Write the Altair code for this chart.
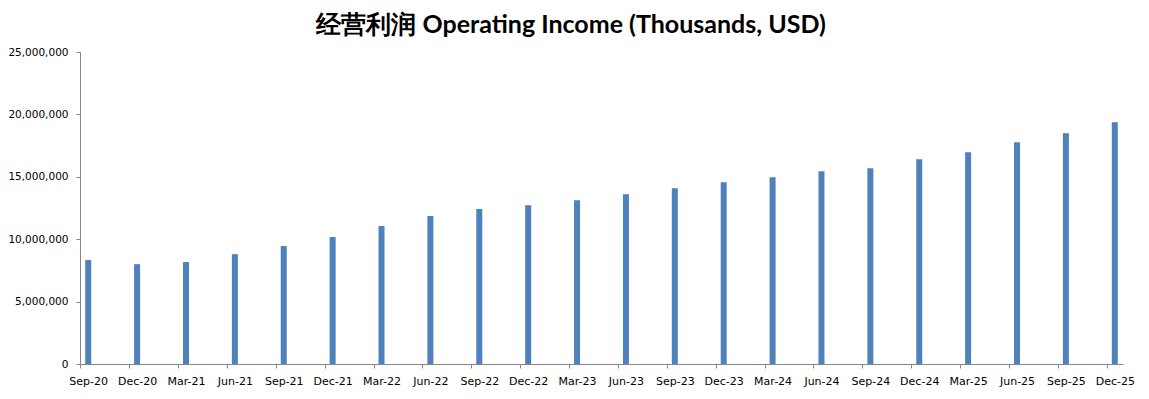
import altair as alt
import pandas as pd

quarters = ["Sep-20", "Dec-20", "Mar-21", "Jun-21", "Sep-21", "Dec-21", "Mar-22", "Jun-22",
            "Sep-22", "Dec-22", "Mar-23", "Jun-23", "Sep-23", "Dec-23", "Mar-24", "Jun-24",
            "Sep-24", "Dec-24", "Mar-25", "Jun-25", "Sep-25", "Dec-25"]
operating_income = [8330000, 8000000, 8170000, 8800000, 9450000, 10170000, 11050000, 11850000,
                    12410000, 12730000, 13130000, 13610000, 14090000, 14570000, 14970000, 15450000,
                    15690000, 16410000, 16970000, 17770000, 18490000, 19370000]
y_ticks = [0, 5000000, 10000000, 15000000, 20000000, 25000000]

df = pd.DataFrame({"quarter": quarters, "value": operating_income})

axis_color = "#868686"
font = "DejaVu Sans"

chart = alt.Chart(df).mark_bar(size=6, color="#4F81BD").encode(
    x=alt.X("quarter:N", sort=quarters,
            scale=alt.Scale(type="point", padding=0.168),
            axis=alt.Axis(title=None, labelAngle=0, domainColor=axis_color, tickColor=axis_color,
                          tickSize=4, tickOffset=-8, labelOffset=8, labelPadding=7,
                          labelFont=font, labelFontSize=11, labelColor="#000000", grid=False)),
    y=alt.Y("value:Q", scale=alt.Scale(domain=[0, 25000000], nice=False),
            axis=alt.Axis(title=None, values=y_ticks, format=",d", domainColor=axis_color,
                          tickColor=axis_color, tickSize=4, labelPadding=8, labelFont=font,
                          labelFontSize=10.5, labelColor="#000000", grid=False)),
).properties(
    width=1043,
    height=312,
    autosize=alt.AutoSizeParams(type="none"),
    padding={"left": 72, "top": 44, "right": 18, "bottom": 27},
    background="#ffffff",
    title=alt.TitleParams("经营利润 Operating Income (Thousands, USD)", anchor="middle",
                          frame="bounds", font="Lato", fontSize=25, fontWeight="bold",
                          color="#000000", offset=9),
).configure_view(stroke=None)

chart.save("out.html", embed_options={"renderer": "svg", "actions": False})
